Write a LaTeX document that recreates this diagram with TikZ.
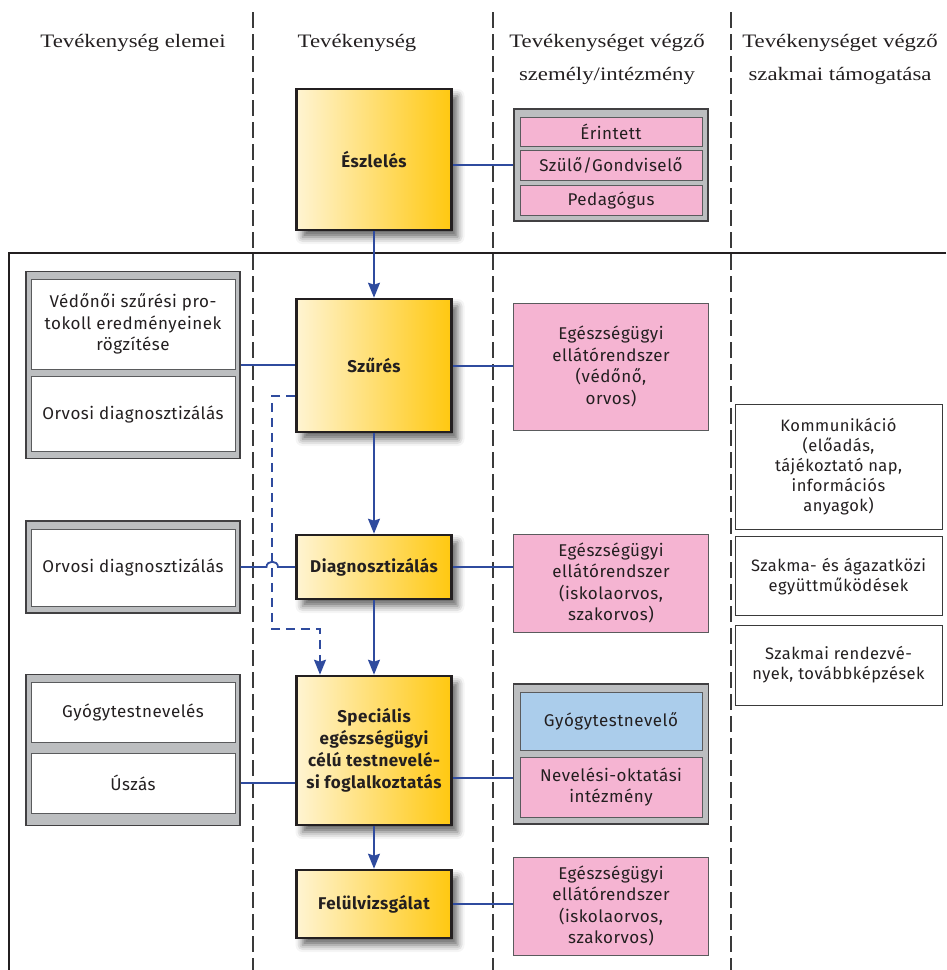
\documentclass[tikz,border=0pt]{standalone}
\usepackage{fontspec}
\setmainfont{Fira Sans}[LetterSpace=3]
\newfontfamily\headfont[FakeStretch=1.2]{Liberation Serif}
\usetikzlibrary{shadows.blur,arrows.meta}
\definecolor{txt}{HTML}{231F20}
\definecolor{gL}{HTML}{FFF4D2}
\definecolor{gR}{HTML}{FFC810}
\definecolor{pinkF}{HTML}{F5B4D2}
\definecolor{blueF}{HTML}{ABCDEB}
\definecolor{grpF}{HTML}{BCBEC0}
\definecolor{grpB}{HTML}{414042}
\definecolor{innB}{HTML}{5A5B5D}
\definecolor{lineC}{HTML}{2F4B9E}
\definecolor{sepC}{HTML}{3A3A3A}
\begin{document}
\begin{tikzpicture}[x=1pt,y=-1pt,
  every node/.style={text=txt, font=\fontsize{17}{21.5}\selectfont, inner sep=0pt, align=center},
  hdr/.style={font=\headfont\fontsize{19}{33}\selectfont, anchor=base},
  act/.style={draw=txt, line width=2.6pt, left color=gL, right color=gR,
    font=\fontsize{17}{22}\selectfont\bfseries, minimum width=155pt,
    blur shadow={shadow xshift=6pt, shadow yshift=-7pt, shadow blur radius=7pt, shadow opacity=60}},
  grp/.style={draw=grpB, fill=grpF, line width=1.2pt},
  pbox/.style={draw=innB, fill=pinkF, line width=1pt},
  bbox/.style={draw=innB, fill=blueF, line width=1pt},
  wbox/.style={draw=innB, fill=white, line width=1pt},
  rbox/.style={draw=sepC, fill=white, line width=0.9pt, minimum width=207pt, font=\fontsize{16.5}{20}\selectfont},
  sepline/.style={draw=sepC, line width=1.2pt, dash pattern=on 16pt off 6pt},
  frame/.style={draw=txt, line width=2.5pt},
  conn/.style={draw=lineC, line width=1.8pt},
  arr/.style={conn, -{Stealth[length=15pt,width=12pt,inset=2pt]}},
  darr/.style={conn, dash pattern=on 9pt off 6pt, -{Stealth[length=15pt,width=12pt,inset=2pt]}}
]
\useasboundingbox (0,0) rectangle (946,970);
% separators and frame
\coordinate (s1t) at (253,12); \coordinate (s1b) at (253,970);
\coordinate (s2t) at (493,12); \coordinate (s2b) at (493,970);
\coordinate (s3t) at (731,12); \coordinate (s3b) at (731,970);
\draw[sepline] (s1t) -- (s1b);
\draw[sepline] (s2t) -- (s2b);
\draw[sepline] (s3t) -- (s3b);
\coordinate (fr1) at (946,253); \coordinate (fr2) at (9,253); \coordinate (fr3) at (9,970);
\draw[frame] (fr1) -- (fr2) -- (fr3);
% headers
\node[hdr] (h1) at (133,47) {Tevékenység elemei};
\node[hdr] (h2) at (357,47) {Tevékenység};
\node[hdr] (h3) at (607,47) {Tevékenységet végző};
\node[hdr] (h3b) at (607,80) {személy/intézmény};
\node[hdr] (h4) at (840,47) {Tevékenységet végző};
\node[hdr] (h4b) at (840,80) {szakmai támogatása};
% activity boxes
\node[act, minimum height=141pt] (esz) at (374,159.5) {Észlelés};
\node[act, minimum height=133pt] (szu) at (374,365.5) {Szűrés};
\node[act, minimum height=64pt] (diag) at (374,567) {Diagnosztizálás};
\node[act, minimum height=149pt] (spec) at (374,750.5) {Speciális\\egészségügyi\\célú testnevelé-\\si foglalkoztatás};
\node[act, minimum height=68pt] (fel) at (374,904) {Felülvizsgálat};
% top right group
\node[grp, minimum width=194pt, minimum height=112pt] (grpT) at (611,165) {};
\node[pbox, minimum width=182pt, minimum height=29pt] (p1) at (611,131.5) {Érintett};
\node[pbox, minimum width=182pt, minimum height=30pt] (p2) at (611,165) {Szülő/Gondviselő};
\node[pbox, minimum width=182pt, minimum height=30pt] (p3) at (611,200) {Pedagógus};
% right column pink boxes
\node[pbox, minimum width=195pt, minimum height=127pt] (pk1) at (611,366.5) {Egészségügyi\\ellátórendszer\\(védőnő,\\orvos)};
\node[pbox, minimum width=195pt, minimum height=98pt] (pk2) at (611,583) {Egészségügyi\\ellátórendszer\\(iskolaorvos,\\szakorvos)};
\node[grp, minimum width=195pt, minimum height=140pt] (rg3) at (611,754) {};
\node[bbox, minimum width=182pt, minimum height=58pt] (gyt) at (611,721.7) {Gyógytestnevelő};
\node[pbox, minimum width=182pt, minimum height=60pt] (nev) at (611,787) {Nevelési-oktatási\\intézmény};
\node[pbox, minimum width=195pt, minimum height=98pt] (pk4) at (611,906) {Egészségügyi\\ellátórendszer\\(iskolaorvos,\\szakorvos)};
% left groups
\node[grp, minimum width=214pt, minimum height=187pt] (lg1) at (133,365.3) {};
\node[wbox, minimum width=204pt, minimum height=90pt] (l1a) at (133,324) {Védőnői szűrési pro-\\tokoll eredményeinek\\rögzítése};
\node[wbox, minimum width=204pt, minimum height=75pt] (l1b) at (133,414) {Orvosi diagnosztizálás};
\node[grp, minimum width=214pt, minimum height=92pt] (lg2) at (133,567) {};
\node[wbox, minimum width=204pt, minimum height=77pt] (l2a) at (133,567.5) {Orvosi diagnosztizálás};
\node[grp, minimum width=214pt, minimum height=151pt] (lg3) at (133,750.3) {};
\node[wbox, minimum width=204pt, minimum height=60pt] (l3a) at (133,712.7) {Gyógytestnevelés};
\node[wbox, minimum width=204pt, minimum height=60pt] (l3b) at (133,783) {Úszás};
% support column
\node[rbox, minimum height=125pt] (r1) at (838.5,466.5) {Kommunikáció\\(előadás,\\tájékoztató nap,\\információs\\anyagok)};
\node[rbox, minimum height=79pt] (r2) at (838.5,576.3) {Szakma- és ágazatközi\\együttműködések};
\node[rbox, minimum height=80pt] (r3) at (838.5,665) {Szakmai rendezvé-\\nyek, továbbképzések};
% connectors
\draw[conn] (grpT.west -| esz.east) -- (grpT.west);
\draw[arr] (esz.south) -- (szu.north);
\draw[conn] (lg1.east) -- (lg1.east -| szu.west);
\coordinate (c1) at (0,366);
\draw[conn] (szu.east |- c1) -- (c1 -| pk1.west);
\draw[arr] (szu.south) -- (diag.north);
\coordinate (hopL) at (266.5,567);
\coordinate (hopR) at (278,567);
\draw[conn] (lg2.east) -- (hopL) .. controls (266.5,560) and (278,560) .. (hopR) -- (lg2.east -| diag.west);
\draw[conn] (diag.east) -- (diag.east -| pk2.west);
\draw[arr] (diag.south) -- (spec.north);
\draw[conn] (lg3.east |- l3b) -- (l3b -| spec.west);
\coordinate (c3) at (0,778);
\draw[conn] (spec.east |- c3) -- (c3 -| rg3.west);
\draw[arr] (spec.south) -- (fel.north);
\draw[conn] (fel.east) -- (fel.east -| pk4.west);
\coordinate (dA) at (272,396);
\coordinate (dB) at (272,629);
\coordinate (dC) at (320,629);
\draw[darr] (szu.west |- dA) -- (dA) -- (dB) -- (dC) -- (dC |- spec.north);
\end{tikzpicture}
\end{document}
